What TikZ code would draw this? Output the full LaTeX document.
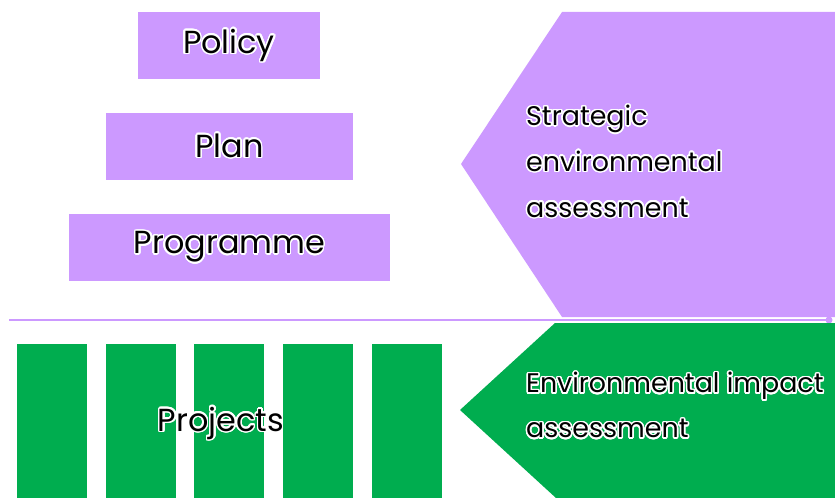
\documentclass[tikz,border=0pt]{standalone}
\usepackage{fontspec}
\setmainfont{Poppins}
\usepackage[copies]{contour}
\contourlength{1.5pt}
\contournumber{24}
\usetikzlibrary{positioning}
\definecolor{seapurple}{RGB}{204,153,255}
\definecolor{eiagreen}{RGB}{0,173,79}
\newcommand{\glow}[1]{\contour{white}{#1}}

\begin{document}
\begin{tikzpicture}[
  x=1bp,y=-1bp,
  tier/.style={fill=seapurple,minimum height=67bp,inner sep=0pt,
               font=\fontsize{32}{38}\selectfont},
  project/.style={fill=eiagreen,minimum width=70bp,minimum height=154bp,
                  inner sep=0pt,anchor=north west},
  blurb/.style={align=left,anchor=west,inner sep=0pt,
                font=\fontsize{27}{46}\selectfont}
]
\useasboundingbox (0,0) rectangle (835,498);

% strategic level
\node[tier,minimum width=182bp] (policy) at (229,46) {\glow{Policy}};
\node[tier,minimum width=247bp] (plan) at (229.5,146.5) {\glow{Plan}};
\node[tier,minimum width=321bp] (programme) at (229.5,247.5) {\glow{Programme}};

\fill[seapurple] (562,12) -- (835,12) -- (835,317) -- (562,317) -- (461,164) -- cycle;
\node[blurb] (sea) at (526,162)
  {\glow{Strategic}\\\glow{environmental}\\\glow{assessment}};

% divider
\coordinate (divl) at (9,320);
\coordinate (divr) at (829,320);
\draw[seapurple,line width=2.5bp] (divl) -- (divr);
\fill[seapurple] (divr) circle (3.5bp);

% project level
\foreach \x [count=\i] in {17,106,194,283,372}
  \node[project] (proj\i) at (\x,344) {};
\node[font=\fontsize{32}{38}\selectfont,inner sep=0pt] (projects) at (221,424) {\glow{Projects}};

\fill[eiagreen] (555,323) -- (835,323) -- (835,498) -- (556,498) -- (460,410) -- cycle;
\node[blurb,font=\fontsize{27}{45}\selectfont] (eia) at (526,406)
  {\glow{Environmental impact}\\\glow{assessment}};
\end{tikzpicture}
\end{document}
